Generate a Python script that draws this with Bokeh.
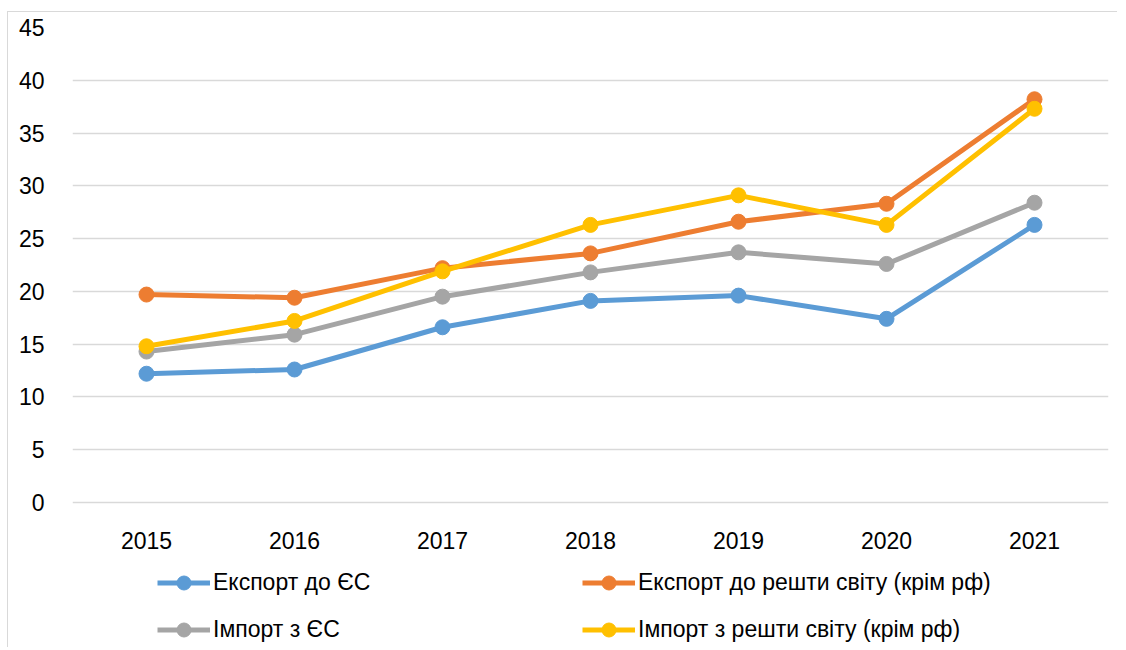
from bokeh.plotting import figure
from bokeh.models import (ColumnDataSource, Range1d, FixedTicker, Legend, LegendItem)
from bokeh.embed import file_html
from bokeh.resources import INLINE

years = ["2015", "2016", "2017", "2018", "2019", "2020", "2021"]
export_eu = [12.2, 12.6, 16.6, 19.1, 19.6, 17.4, 26.3]
export_world = [19.7, 19.4, 22.2, 23.6, 26.6, 28.3, 38.2]
import_eu = [14.3, 15.9, 19.5, 21.8, 23.7, 22.6, 28.4]
import_world = [14.8, 17.2, 21.9, 26.3, 29.1, 26.3, 37.3]

labels = ["Експорт до ЄС", "Експорт до решти світу (крім рф)",
          "Імпорт з ЄС", "Імпорт з решти світу (крім рф)"]
colors = ["#5B9BD5", "#ED7D31", "#A5A5A5", "#FFC000"]
y_ticks = [0, 5, 10, 15, 20, 25, 30, 35, 40, 45]

FONT = "Liberation Sans"

# frame: top at value 45, extends below 0 to leave room for x labels + legend
FRAME_TOP, FRAME_H, ZERO_PX = 15, 620, 475.0
y_min = -45.0 * (FRAME_H - ZERO_PX) / ZERO_PX

p = figure(width=1110, height=636, x_range=years, y_range=Range1d(y_min, 45),
           output_backend="svg", toolbar_location=None,
           min_border_left=64, min_border_right=10,
           min_border_top=FRAME_TOP, min_border_bottom=636 - FRAME_TOP - FRAME_H)
p.styles = {"border-left": "1px solid #d9d9d9", "border-top": "1px solid #d9d9d9",
            "margin-top": "11px", "margin-left": "7px"}

p.outline_line_color = None
p.background_fill_color = "white"
p.border_fill_color = "white"

p.xgrid.grid_line_color = None
p.ygrid.grid_line_color = "#d9d9d9"
p.ygrid.grid_line_width = 1.5

p.yaxis.ticker = FixedTicker(ticks=y_ticks)
p.xaxis.fixed_location = 0
for ax in (p.xaxis, p.yaxis):
    ax.axis_line_color = None
    ax.major_tick_line_color = None
    ax.minor_tick_line_color = None
    ax.major_label_text_font = FONT
    ax.major_label_text_font_size = "23px"
    ax.major_label_text_color = "#000000"
p.yaxis.major_label_standoff = 22
p.xaxis.major_label_standoff = 23

series = [export_eu, export_world, import_eu, import_world]
renderers = []
for vals, c in zip(series, colors):
    src = ColumnDataSource(dict(x=years, y=vals))
    ln = p.line("x", "y", source=src, line_color=c, line_width=5)
    sc = p.scatter("x", "y", source=src, size=15, fill_color=c, line_color=c)
    renderers.append([ln, sc])

def make_legend(idx, loc):
    items = [LegendItem(label=labels[i], renderers=renderers[i]) for i in idx]
    lg = Legend(items=items, location=loc, orientation="vertical")
    lg.border_line_color = None
    lg.background_fill_alpha = 0
    lg.padding = 0
    lg.margin = 0
    lg.spacing = 12
    lg.glyph_width = 53
    lg.glyph_height = 35
    lg.label_height = 35
    lg.label_standoff = 3
    lg.label_text_font = FONT
    lg.label_text_font_size = "23px"
    lg.label_text_color = "#000000"
    return lg

p.add_layout(make_legend([0, 2], (85, 0)), "center")
p.add_layout(make_legend([1, 3], (510, 0)), "center")

open("out.html", "w").write(file_html(p, INLINE))
